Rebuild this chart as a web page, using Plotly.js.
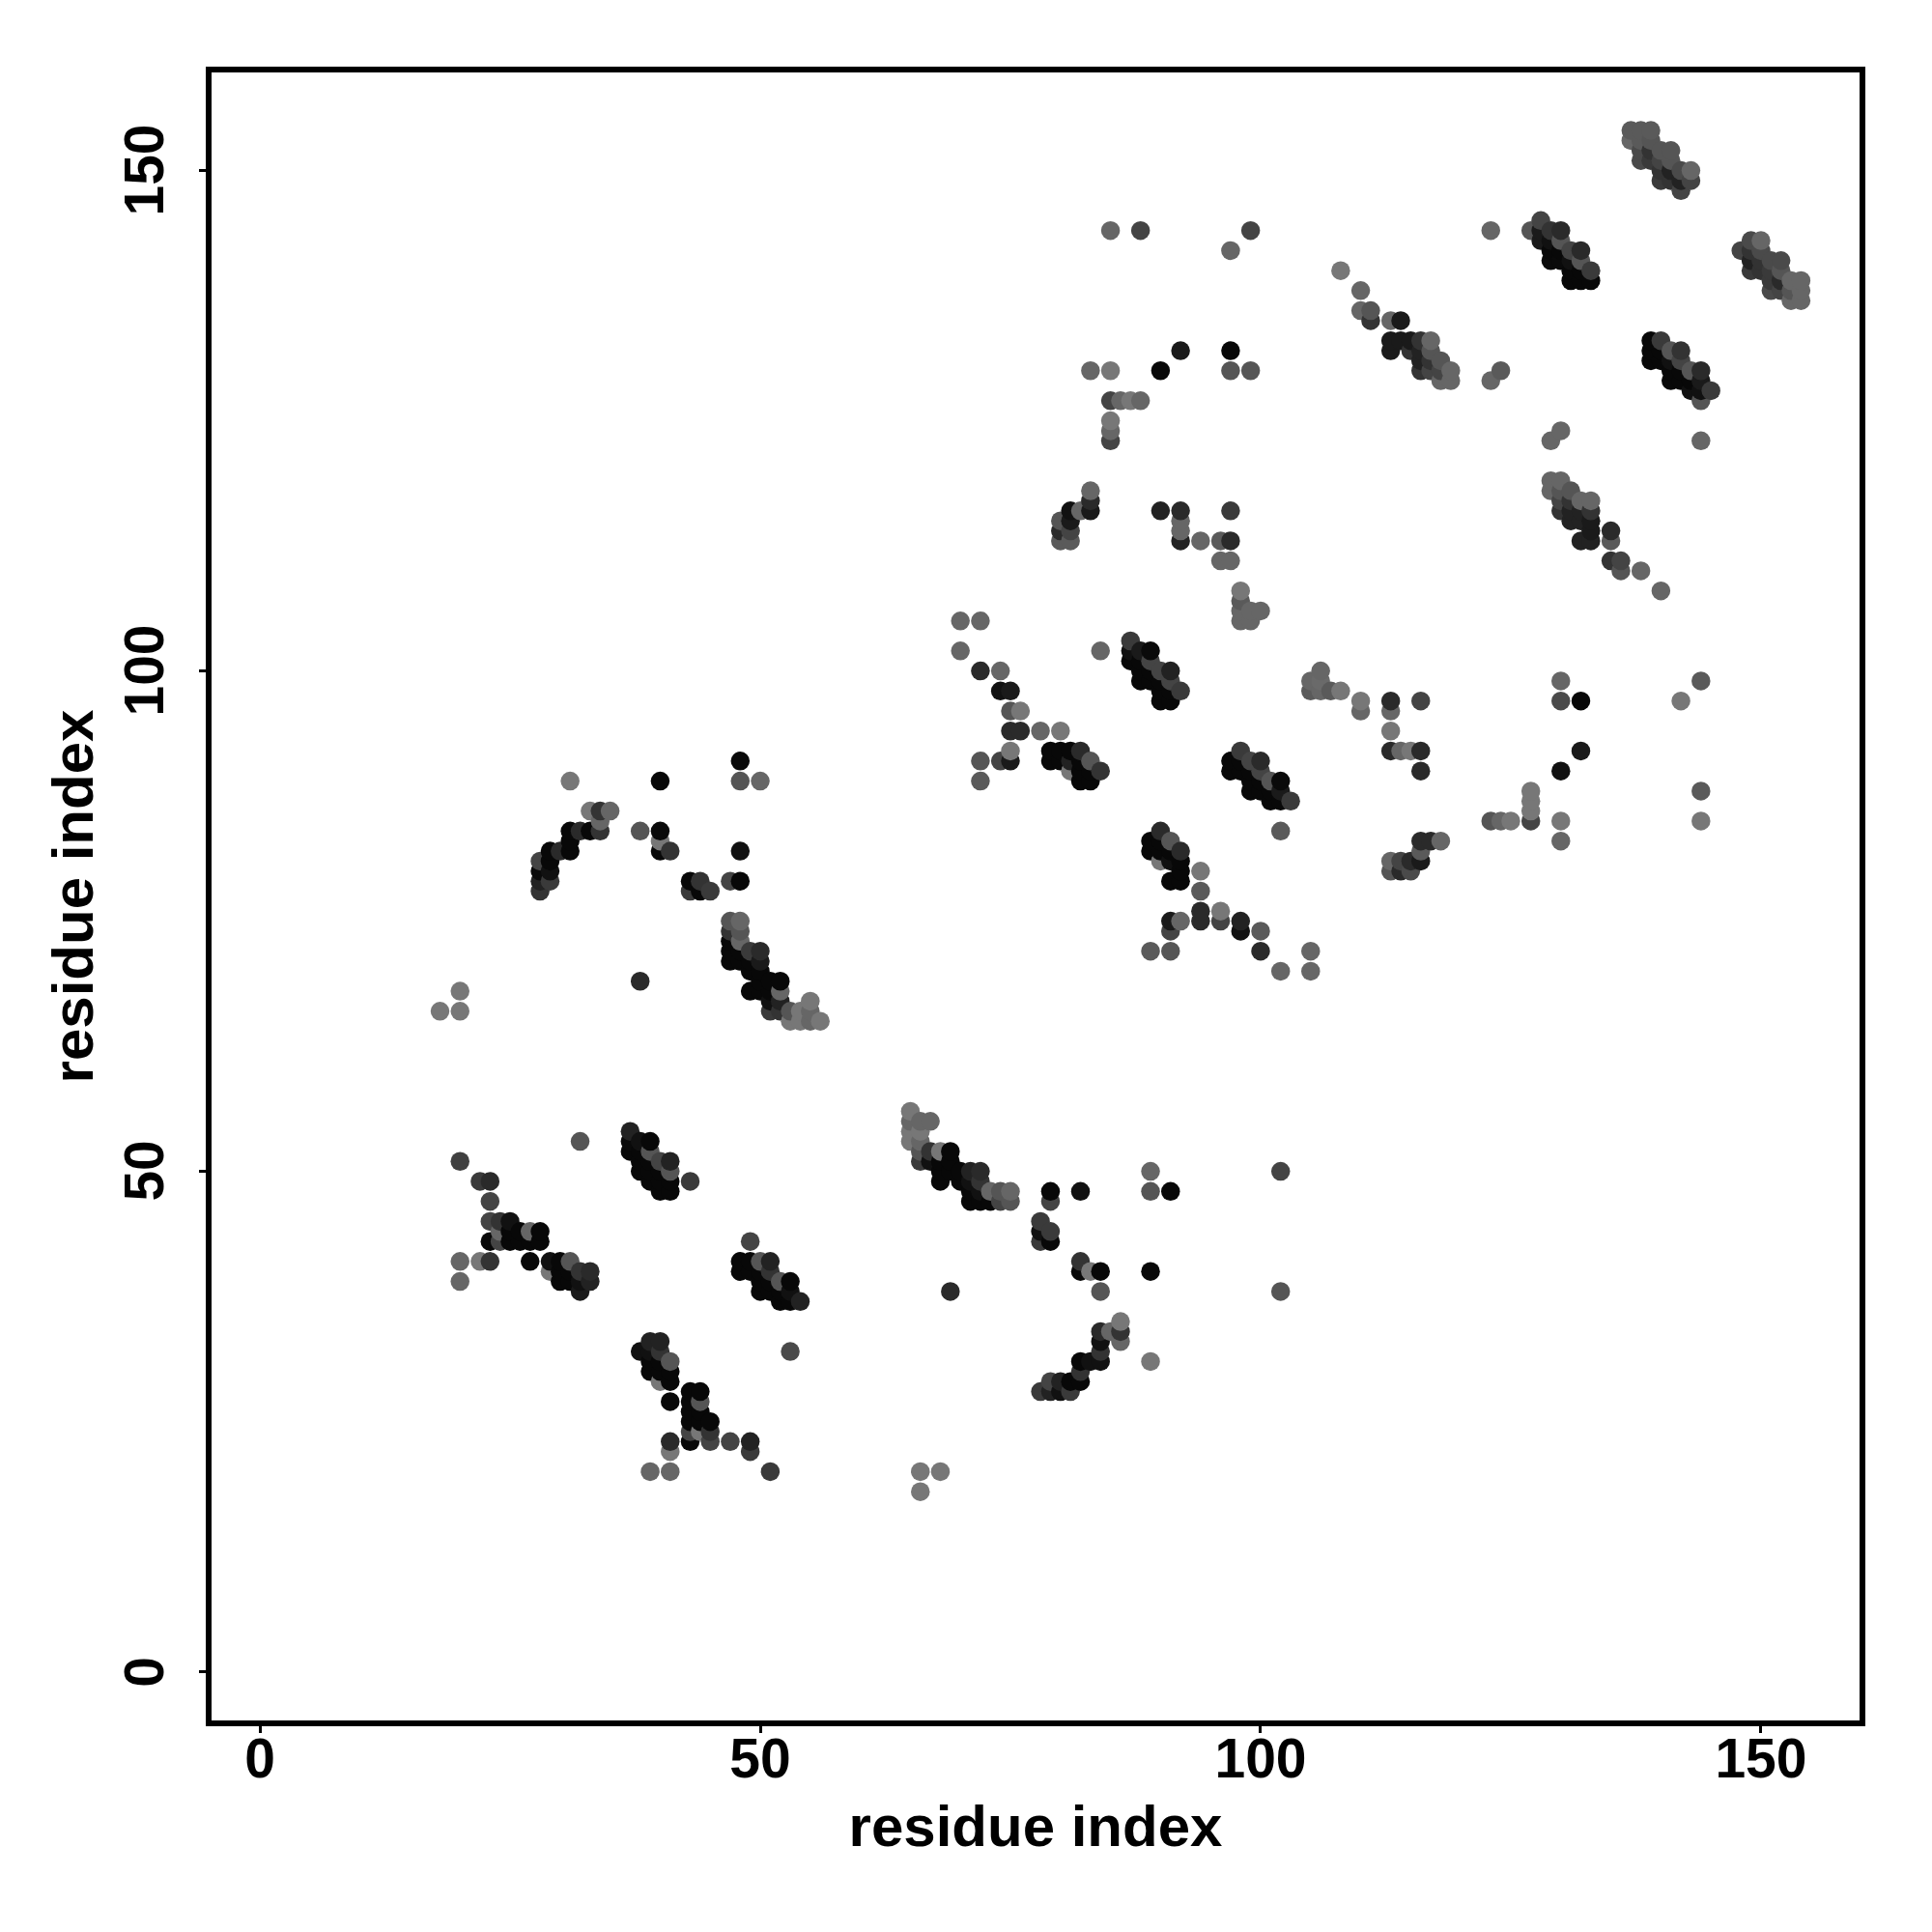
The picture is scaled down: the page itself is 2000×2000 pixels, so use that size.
<!DOCTYPE html>
<html><head><meta charset="utf-8">
<script src="https://cdn.plot.ly/plotly-3.0.0.min.js"></script>
<style>html,body{margin:0;padding:0;background:#fff}</style></head>
<body><div id="chart" style="width:2000px;height:2000px"></div>
<script>
// each entry: [residue x, residue y, grey level of the contact]
const blockA=[[20,51,64],[22,49,58],[23,49,42],[23,47,68],[23,45,68],[24,45,51],[25,45,17],[24,44,102],[25,44,8],[26,44,8],[27,44,102],[28,44,8],
[23,43,8],[24,43,68],[25,43,8],[26,43,8],[27,43,8],[28,43,8],[20,41,102],[22,41,119],[23,41,51],[27,41,8],[29,41,17],[30,41,8],[31,41,85],
[29,40,119],[30,40,8],[31,40,8],[32,40,51],[33,40,42],[20,39,102],[30,39,8],[31,39,8],[32,39,17],[33,39,34],[32,38,26]];
const blockB=[[37,54,34],[32,53,85],[37,53,10],[38,53,17],[39,53,8],[37,52,8],[38,52,8],[39,52,85],[38,51,8],[39,51,8],[40,51,68],[41,51,34],
[38,50,8],[39,50,8],[40,50,8],[41,50,85],[39,49,8],[40,49,8],[41,49,8],[43,49,58],[40,48,8],[41,48,8]];
const blockC=[[49,43,68],[48,41,8],[49,41,8],[50,41,85],[51,41,34],[48,40,8],[49,40,8],[50,40,8],[51,40,51],[50,39,8],[51,39,8],[52,39,85],[53,39,8],
[50,38,8],[51,38,8],[52,38,8],[53,38,17],[52,37,8],[53,37,8],[54,37,34],[53,32,74]];
const blockD=[[39,33,34],[40,33,34],[38,32,17],[39,32,17],[40,32,51],[39,31,8],[40,31,8],[41,31,85],[39,30,8],[40,30,8],[41,30,8],[40,29,119],[41,29,8],
[43,28,8],[44,28,8],[41,27,8],[43,27,8],[44,27,85],[43,26,8],[44,26,8],[43,25,8],[44,25,8],[45,25,8],[43,24,68],[44,24,119],[45,24,51],
[41,23,42],[43,23,8],[45,23,68],[47,23,68],[49,23,34],[41,22,119],[49,22,58],[39,20,102],[41,20,102],[51,20,58]];
const blockE=[[65,56,119],[65,55,102],[66,55,102],[67,55,102],[65,54,119],[66,54,119],[65,53,119],[66,53,102],[66,52,85],[67,52,51],[68,52,119],[69,52,8],
[66,51,58],[67,51,17],[68,51,8],[69,51,8],[68,50,8],[69,50,8],[70,50,8],[71,50,34],[72,50,42],[68,49,8],[70,49,8],[71,49,17],[72,49,51],
[71,48,8],[72,48,17],[73,48,102],[74,48,85],[75,48,102],[71,47,8],[72,47,8],[73,47,8],[74,47,68],[75,47,85]];
const blockF=[[79,48,8],[79,47,68],[82,48,17],[89,50,102],[89,48,85],[91,48,8],[102,50,68],[78,45,58],[78,44,17],[78,43,58],[79,44,58],[79,43,8],
[82,41,51],[82,40,8],[83,40,119],[84,40,8],[89,40,8],[69,38,42],[84,38,85],[102,38,85],[66,20,119],[68,20,119],[66,18,119]];
const blockG=[[86,35,119],[86,34,51],[86,33,102],[84,34,42],[85,34,102],[84,33,17],[84,32,51],[84,31,17],[83,31,17],[82,31,8],[82,30,51],[89,31,119],
[82,29,8],[81,29,8],[80,29,34],[79,29,68],[78,28,58],[79,28,34],[80,28,17],[81,28,58]];
const blockH=[[48,91,10],[31,89,119],[40,89,8],[48,89,85],[50,89,102],[33,86,119],[34,86,51],[35,86,102],[34,85,102],[31,84,8],[32,84,42],[33,84,8],[34,84,51],
[38,84,85],[40,84,10],[31,83,8],[40,83,119],[29,82,8],[30,82,42],[31,82,8],[40,82,8],[41,82,51],[48,82,17],[29,81,8],[28,81,68],[28,80,10],[29,80,17],
[28,79,34],[29,79,58],[43,79,8],[44,79,51],[47,79,68],[48,79,8],[28,78,51],[43,78,58],[44,78,8],[45,78,58]];
const blockI=[[47,75,85],[48,75,102],[47,74,51],[48,74,85],[47,73,8],[48,73,102],[47,72,8],[48,72,8],[49,72,58],[50,72,42],[47,71,8],[48,71,8],[49,71,8],[50,71,26],
[49,70,8],[50,70,8],[50,69,8],[51,69,8],[52,69,8],[38,69,42],[49,68,8],[50,68,8],[51,68,8],[52,68,102],[51,67,17],[52,67,34],[55,67,119],
[51,66,58],[52,66,51],[53,66,85],[54,66,119],[55,66,102],[18,66,119],[20,66,119],[20,68,119],[53,65,119],[54,65,119],[55,65,102],[56,65,119]];
const blockJ=[[70,105,102],[72,105,102],[70,102,102],[84,102,102],[72,100,42],[74,100,102],[74,98,17],[75,98,26],[75,96,85],[76,96,119],[75,94,42],[76,94,42],
[78,94,102],[80,94,119],[75,92,119],[72,91,85],[74,91,68],[75,91,26],[72,89,90]];
const blockK=[[79,92,8],[80,92,8],[81,92,8],[82,92,42],[79,91,8],[80,91,8],[81,91,34],[82,91,8],[83,91,85],[81,90,119],[82,90,8],[83,90,8],[84,90,51],[82,89,8],[83,89,8]];
const blockL=[[87,103,58],[87,102,17],[88,102,26],[89,102,10],[87,101,8],[88,101,8],[89,101,68],[88,100,8],[89,100,8],[90,100,68],[91,100,34],
[88,99,8],[89,99,8],[90,99,8],[91,99,68],[90,98,8],[91,98,8],[92,98,58],[90,97,8],[91,97,8]];
const blockM=[[98,92,58],[97,91,8],[98,91,8],[99,91,68],[100,91,42],[97,90,8],[98,90,8],[99,90,8],[100,90,68],[99,89,8],[100,89,8],[101,89,85],[102,89,10],
[99,88,8],[100,88,8],[101,88,8],[102,88,26],[101,87,8],[102,87,8],[103,87,58],[102,84,90]];
const blockN=[[90,84,42],[89,83,8],[90,83,8],[91,83,85],[89,82,8],[90,82,8],[91,82,8],[92,82,42],[90,81,119],[91,81,17],[92,81,8],[92,80,8],[94,80,119],
[91,79,8],[92,79,8],[94,78,90],[94,76,42],[94,75,42],[96,76,119],[96,75,68],[91,75,26],[92,75,102],[91,74,68],[98,75,34],[98,74,17],[100,74,90],
[89,72,90],[91,72,85],[100,72,42],[105,72,102],[102,70,102],[105,70,102]];
const blockO=[[92,132,26],[97,132,8],[83,130,102],[85,130,119],[90,130,8],[97,130,85],[99,130,85],[85,127,68],[86,127,102],[87,127,119],[88,127,102],
[85,125,119],[85,124,102],[85,123,68],[85,144,102],[88,144,68],[97,142,102],[99,144,68]];
const blockP=[[83,118,102],[83,117,42],[83,116,26],[82,116,102],[81,116,17],[81,115,26],[81,114,68],[81,113,90],[80,115,85],[80,114,42],[80,113,90],
[90,116,34],[92,116,42],[97,116,58],[92,115,102],[92,114,102],[92,113,34],[94,113,102],[96,113,90],[97,113,42],[96,111,102],[97,111,102],
[98,108,119],[98,107,90],[98,106,102],[99,106,102],[100,106,102],[98,105,102],[99,105,102]];
const blockQ=[[123,144,102],[108,140,119],[110,138,102],[110,136,102],[111,136,85],[111,135,51],[113,135,102],[114,135,26],[113,133,26],[114,133,26],[115,133,26],
[116,133,51],[117,133,102],[113,132,26],[115,132,51],[116,132,34],[117,132,85],[116,131,34],[117,131,51],[118,131,85],[116,130,51],[117,130,68],[118,130,68],
[119,130,102],[124,130,90],[118,129,102],[119,129,102],[123,129,102],[130,124,102],[129,123,102],[144,123,102]];
const blockR=[[129,119,102],[130,119,102],[129,118,102],[130,118,85],[131,118,85],[130,117,68],[131,117,51],[132,117,102],[133,117,102],[130,116,51],[131,116,34],
[132,116,34],[133,116,51],[131,115,34],[132,115,34],[133,115,26],[133,114,26],[135,114,42],[132,113,34],[133,113,34],[135,113,90],[135,111,51],[136,111,68],
[136,110,85],[138,110,102],[140,108,102]];
const blockS=[[139,133,8],[140,133,58],[139,132,8],[140,132,8],[141,132,85],[142,132,51],[139,131,8],[140,131,8],[141,131,17],[142,131,68],[141,130,8],[142,130,8],
[143,130,85],[144,130,42],[141,129,8],[142,129,8],[143,129,8],[144,129,26],[143,128,17],[144,128,17],[145,128,58],[144,127,85]];
const blockT=[[137,154,90],[138,154,90],[139,154,90],[137,153,102],[138,153,90],[139,153,85],[138,152,74],[139,152,51],[140,152,85],[141,152,85],[138,151,74],[139,151,58],
[140,151,68],[141,151,85],[140,150,51],[141,150,34],[142,150,74],[143,150,102],[140,149,58],[141,149,51],[142,149,34],[143,149,68],[142,148,68]];
const blockU=[[128,145,68],[127,144,85],[128,144,26],[129,144,51],[130,144,42],[128,143,26],[129,143,17],[130,143,85],[129,142,8],[130,142,8],[131,142,68],[132,142,42],
[129,141,10],[130,141,10],[131,141,17],[132,141,85],[131,140,8],[132,140,8],[133,140,58],[131,139,8],[132,139,8],[133,139,8]];
const blockV=[[149,143,74],[150,143,102],[148,142,68],[149,142,51],[150,142,74],[149,141,34],[150,141,51],[151,141,74],[152,141,74],[149,140,58],[150,140,51],[151,140,58],
[152,140,85],[151,139,58],[152,139,42],[153,139,102],[154,139,102],[151,138,74],[152,138,68],[153,138,85],[154,138,102],[153,137,102],[154,137,102]];
const blockW=[[106,100,102],[105,99,102],[106,99,106],[105,98,90],[106,98,102],[107,98,90],[108,98,119],[110,97,119],[110,96,102],[113,97,42],[113,96,102],[116,97,68],
[113,94,119],[113,92,42],[114,92,102],[115,92,119],[116,92,42],[116,90,42],[116,83,42],[117,83,42],[118,83,102],[116,82,90],[113,81,102],[114,81,68],[115,81,42],[116,81,26],
[113,80,85],[114,80,42],[115,80,74]];
const blockX=[[130,99,102],[130,97,74],[132,97,8],[132,92,26],[130,90,17],[144,99,90],[142,97,119],[144,88,90],[144,85,119],[130,85,119],[130,83,102],
[127,88,119],[127,87,119],[127,86,119],[127,85,68],[123,85,85],[124,85,102],[125,85,119]];
const xTickValues=[0,50,100,150];
const yTickValues=[0,50,100,150];
const xAxisLabel="residue index";
const yAxisLabel="residue index";

const contacts=[blockA,blockB,blockC,blockD,blockE,blockF,blockG,blockH,blockI,blockJ,blockK,blockL,blockM,blockN,blockO,blockP,blockQ,blockR,blockS,blockT,blockU,blockV,blockW,blockX]
  .flat().sort((a,b)=>a[0]-b[0]||a[1]-b[1]);
const family='"Liberation Sans",Arial,sans-serif';
const tickFont={family:family,size:57,color:'#000',weight:700};
const titleFont={family:family,size:60,color:'#000',weight:700};
const axisBase={showgrid:false,zeroline:false,showline:true,mirror:true,linecolor:'#000',linewidth:6,
  ticks:'outside',ticklen:7,tickwidth:3,tickcolor:'#000',tickfont:tickFont,tickmode:'array'};
Plotly.newPlot('chart',[{
  type:'scatter',mode:'markers',
  x:contacts.map(c=>c[0]),y:contacts.map(c=>c[1]),
  marker:{size:19.5,line:{width:0},color:contacts.map(c=>`rgb(${c[2]},${c[2]},${c[2]})`)},
  hoverinfo:'x+y',cliponaxis:true
}],{
  width:2000,height:2000,showlegend:false,paper_bgcolor:'#fff',plot_bgcolor:'#fff',
  margin:{l:219,r:75,t:75,b:219,pad:0},
  xaxis:Object.assign({},axisBase,{range:[-4.83,159.85],tickvals:xTickValues,ticktext:xTickValues.map(String),ticklabelstandoff:-22,
    title:{text:xAxisLabel,font:titleFont,standoff:20}}),
  yaxis:Object.assign({},axisBase,{range:[-4.86,159.8],tickvals:yTickValues,showticklabels:false,
    title:{text:yAxisLabel,font:titleFont,standoff:92}}),
  annotations:yTickValues.map(v=>({
    text:String(v),y:v,yref:'y',yanchor:'middle',x:0,xref:'paper',xanchor:'center',xshift:-70,
    textangle:-90,showarrow:false,font:tickFont
  }))
},{staticPlot:true,displayModeBar:false});
</script></body></html>
